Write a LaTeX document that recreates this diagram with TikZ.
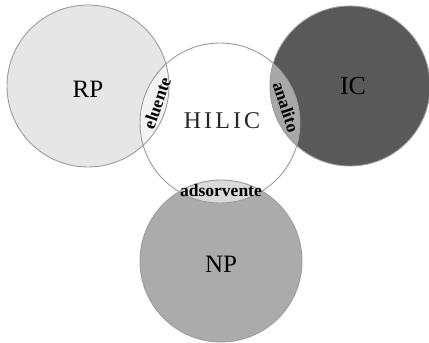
\documentclass[tikz,border=0pt]{standalone}
\usepackage{fontspec}
\setmainfont{Liberation Serif}
\newfontfamily\spacedserif[LetterSpace=13]{Liberation Serif}
\definecolor{rpfill}{HTML}{E6E6E6}
\definecolor{rplens}{HTML}{F3F3F3}
\definecolor{icfill}{HTML}{595959}
\definecolor{iclens}{HTML}{A8A8A8}
\definecolor{npfill}{HTML}{ABABAB}
\definecolor{nplens}{HTML}{DADADA}
\definecolor{rim}{HTML}{9C9C9C}
\tikzset{
  rimline/.style={draw=rim, line width=0.9pt},
  biglabel/.style={font=\fontsize{25}{25}\selectfont, inner sep=0pt},
  lenslabel/.style={font=\bfseries\fontsize{17.5}{17.5}\selectfont, inner sep=0pt}
}
\begin{document}
\begin{tikzpicture}[x=1pt,y=-1pt]
\useasboundingbox (0,0) rectangle (429,343);
\coordinate (rp) at (88,86);
\coordinate (hi) at (220,123);
\coordinate (ic) at (350,86);
\coordinate (np) at (221,261);
\def\rrp{81}\def\rhi{80}\def\ric{80}\def\rnp{81}
% fills
\fill[white] (hi) circle[radius=\rhi];
\fill[rpfill] (rp) circle[radius=\rrp];
\fill[icfill] (ic) circle[radius=\ric];
\fill[npfill] (np) circle[radius=\rnp];
% lenses
\begin{scope}
  \clip (hi) circle[radius=\rhi];
  \fill[rplens] (rp) circle[radius=\rrp];
  \fill[iclens] (ic) circle[radius=\ric];
  \fill[nplens] (np) circle[radius=\rnp];
\end{scope}
% outlines
\draw[rimline] (rp) circle[radius=\rrp];
\draw[rimline] (ic) circle[radius=\ric];
\draw[rimline] (np) circle[radius=\rnp];
\draw[rimline] (hi) circle[radius=\rhi];
% labels
\node[biglabel] (rpl) at (88,89) {RP};
\node[biglabel, font=\fontsize{26}{26}\selectfont] (icl) at (353,86) {IC};
\node[biglabel] (npl) at (221,264) {NP};
\node[inner sep=0pt, text=black!85, font=\spacedserif\fontsize{24}{24}\selectfont] (hil) at (222,121) {HILIC};
\node[lenslabel, rotate=71] (elu) at (157,103) {eluente};
\node[lenslabel, rotate=-72] (ana) at (286,107) {analito};
\node[lenslabel] (ads) at (221,191) {adsorvente};
\end{tikzpicture}
\end{document}
